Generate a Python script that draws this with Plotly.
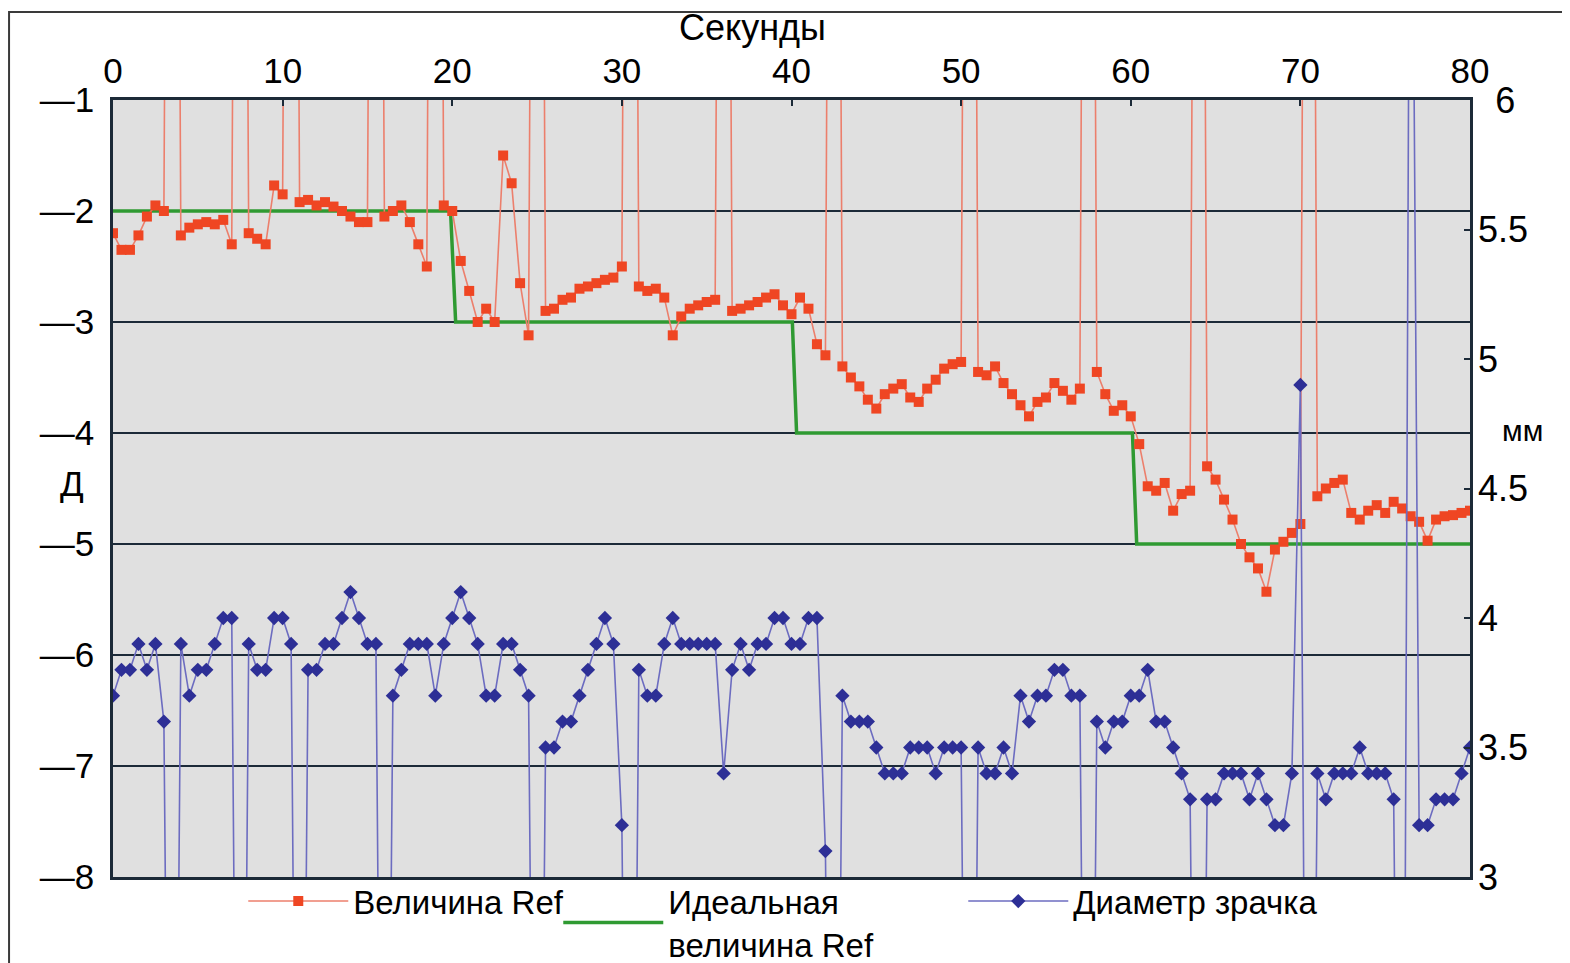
import plotly.graph_objects as go

# ---------------- data ----------------
SAMPLE_STEP_S = 0.5          # one sample every 0.5 s, 0 ... 80 s
S = 12.0                     # off-scale artefact samples of the Ref series (go above the chart)

# Величина Ref, diopters (left axis)
ref_values = [
    -2.2, -2.35, -2.35, -2.22, -2.05, -1.95, -2.0, S, -2.22, -2.15,      # 0 - 4.5 s
    -2.12, -2.1, -2.12, -2.08, -2.3, S, -2.2, -2.25, -2.3, -1.77,        # 5 - 9.5
    -1.85, S, -1.92, -1.9, -1.95, -1.92, -1.96, -2.0, -2.05, -2.1,       # 10 - 14.5
    -2.1, S, -2.05, -2.0, -1.95, -2.1, -2.3, -2.5, S, -1.95,             # 15 - 19.5
    -2.0, -2.45, -2.72, -3.0, -2.88, -3.0, -1.5, -1.75, -2.65, -3.12,    # 20 - 24.5
    S, -2.9, -2.88, -2.8, -2.78, -2.7, -2.68, -2.65, -2.62, -2.6,        # 25 - 29.5
    -2.5, S, -2.68, -2.72, -2.7, -2.78, -3.12, -2.95, -2.88, -2.85,      # 30 - 34.5
    -2.82, -2.8, S, -2.9, -2.88, -2.85, -2.82, -2.78, -2.75, -2.85,      # 35 - 39.5
    -2.93, -2.78, -2.88, -3.2, -3.3, S, -3.4, -3.5, -3.58, -3.7,         # 40 - 44.5
    -3.78, -3.65, -3.6, -3.56, -3.68, -3.72, -3.6, -3.52, -3.42, -3.38,  # 45 - 49.5
    -3.36, S, -3.45, -3.48, -3.4, -3.55, -3.65, -3.75, -3.85, -3.72,     # 50 - 54.5
    -3.68, -3.55, -3.62, -3.7, -3.6, S, -3.45, -3.65, -3.8, -3.75,       # 55 - 59.5
    -3.85, -4.1, -4.48, -4.52, -4.45, -4.7, -4.55, -4.52, S, -4.3,       # 60 - 64.5
    -4.42, -4.6, -4.78, -5.0, -5.12, -5.22, -5.43, -5.05, -4.98, -4.9,   # 65 - 69.5
    -4.82, S, -4.57, -4.5, -4.45, -4.42, -4.72, -4.78, -4.7, -4.65,      # 70 - 74.5
    -4.72, -4.62, -4.68, -4.75, -4.8, -4.97, -4.78, -4.75, -4.74, -4.72, # 75 - 79.5
    -4.7,                                                                # 80
]

# Диаметр зрачка, mm (right axis); 0.0 = dropout (blink)
pupil_mm = [
    3.7, 3.8, 3.8, 3.9, 3.8, 3.9, 3.6, 0.0, 3.9, 3.7,      # 0 - 4.5 s
    3.8, 3.8, 3.9, 4.0, 4.0, 0.0, 3.9, 3.8, 3.8, 4.0,      # 5 - 9.5
    4.0, 3.9, 0.0, 3.8, 3.8, 3.9, 3.9, 4.0, 4.1, 4.0,      # 10 - 14.5
    3.9, 3.9, 0.0, 3.7, 3.8, 3.9, 3.9, 3.9, 3.7, 3.9,      # 15 - 19.5
    4.0, 4.1, 4.0, 3.9, 3.7, 3.7, 3.9, 3.9, 3.8, 3.7,      # 20 - 24.5
    0.0, 3.5, 3.5, 3.6, 3.6, 3.7, 3.8, 3.9, 4.0, 3.9,      # 25 - 29.5
    3.2, 0.0, 3.8, 3.7, 3.7, 3.9, 4.0, 3.9, 3.9, 3.9,      # 30 - 34.5
    3.9, 3.9, 3.4, 3.8, 3.9, 3.8, 3.9, 3.9, 4.0, 4.0,      # 35 - 39.5
    3.9, 3.9, 4.0, 4.0, 3.1, 0.0, 3.7, 3.6, 3.6, 3.6,      # 40 - 44.5
    3.5, 3.4, 3.4, 3.4, 3.5, 3.5, 3.5, 3.4, 3.5, 3.5,      # 45 - 49.5
    3.5, 0.0, 3.5, 3.4, 3.4, 3.5, 3.4, 3.7, 3.6, 3.7,      # 50 - 54.5
    3.7, 3.8, 3.8, 3.7, 3.7, 0.0, 3.6, 3.5, 3.6, 3.6,      # 55 - 59.5
    3.7, 3.7, 3.8, 3.6, 3.6, 3.5, 3.4, 3.3, 0.0, 3.3,      # 60 - 64.5
    3.3, 3.4, 3.4, 3.4, 3.3, 3.4, 3.3, 3.2, 3.2, 3.4,      # 65 - 69.5
    4.9, 0.0, 3.4, 3.3, 3.4, 3.4, 3.4, 3.5, 3.4, 3.4,      # 70 - 74.5
    3.4, 3.3, 0.0, 8.0, 3.2, 3.2, 3.3, 3.3, 3.3, 3.4,      # 75 - 79.5
    3.5,                                                   # 80
]

# Идеальная величина Ref (step target)
ideal_seconds = [0, 19.9, 20.2, 40.05, 40.3, 60.1, 60.35, 80]
ideal_ref = [-2, -2, -3, -3, -4, -4, -5, -5]

seconds = [round(i * SAMPLE_STEP_S, 2) for i in range(len(ref_values))]

x_ticks = [0, 10, 20, 30, 40, 50, 60, 70, 80]
left_ticks = [-1, -2, -3, -4, -5, -6, -7, -8]
left_labels = ["\u2014" + str(abs(v)) for v in left_ticks]
right_ticks = [3, 3.5, 4, 4.5, 5, 5.5, 6]
# the top label "6" sits a little to the right (clear of the "80" tick label)
right_labels = ["3", "3.5", "4", "4.5", "5", "5.5", "\u2009\u00a06"]

# ---------------- styling ----------------
FONT = "Liberation Sans, Arial, Helvetica, sans-serif"
AXIS_DARK = "#1c2a38"
RED_MARK = "#ef4623"
RED_LINE = "#ec7f6c"
GREEN = "#2f9a32"
BLUE_MARK = "#2d2f96"
BLUE_LINE = "#6c6cc0"

fig = go.Figure()

fig.add_trace(go.Scatter(
    x=ideal_seconds, y=ideal_ref, name="Идеальная<br>величина Ref",
    mode="lines", line=dict(color=GREEN, width=3.5), legendrank=2,
    legendwidth=290,
))
fig.add_trace(go.Scatter(
    x=seconds, y=ref_values, name="Величина Ref",
    mode="lines+markers",
    line=dict(color=RED_LINE, width=1.6),
    marker=dict(symbol="square", size=10, color=RED_MARK, line=dict(width=0)),
    legendrank=1, legendwidth=200,
))
fig.add_trace(go.Scatter(
    x=seconds, y=pupil_mm, name="Диаметр зрачка", yaxis="y2",
    mode="lines+markers",
    line=dict(color=BLUE_LINE, width=1.6),
    marker=dict(symbol="diamond", size=11, color=BLUE_MARK, line=dict(width=0)),
    legendrank=3,
))

# the page body adds an 8 px offset, so margins are shifted to land the
# plot area at x 113-1470, y 100-877 in the final picture
fig.update_layout(
    width=1570, height=963,
    margin=dict(l=105, r=108, t=92, b=94, autoexpand=False),
    paper_bgcolor="white",
    plot_bgcolor="#e0e0e0",
    font=dict(family=FONT, size=35, color="black"),
    showlegend=True,
    legend=dict(
        orientation="h", x=0.096, xanchor="left", y=0.005, yanchor="top",
        font=dict(size=33), itemwidth=100, bgcolor="rgba(0,0,0,0)",
        traceorder="normal", valign="middle",
    ),
    xaxis=dict(
        side="top", range=[0, 80], tickvals=x_ticks, ticks="inside", ticklen=6,
        tickwidth=2, tickcolor=AXIS_DARK, showgrid=False, zeroline=False,
        showline=True, mirror=True, linecolor=AXIS_DARK, linewidth=2.5,
        ticklabelstandoff=0, tickfont=dict(size=35),
    ),
    yaxis=dict(
        range=[-8, -1], tickvals=left_ticks, ticktext=left_labels, ticks="",
        showgrid=True, gridcolor=AXIS_DARK, gridwidth=2.2, zeroline=False,
        showline=True, mirror=True, linecolor=AXIS_DARK, linewidth=2.5,
        ticklabelstandoff=9,
    ),
    yaxis2=dict(
        overlaying="y", side="right", range=[3, 6], tickvals=right_ticks,
        ticktext=right_labels, tickfont=dict(size=36),
        ticks="inside", ticklen=6, tickwidth=2, tickcolor=AXIS_DARK,
        showgrid=False, zeroline=False, showline=False,
        ticklabelstandoff=7,
    ),
    annotations=[
        dict(text="Секунды", xref="paper", yref="paper", x=0.471, y=1.093,
             xanchor="center", yanchor="middle", showarrow=False,
             font=dict(size=36)),
        dict(text="Д", xref="paper", yref="paper", x=-0.030, y=0.507,
             xanchor="center", yanchor="middle", showarrow=False,
             font=dict(size=35)),
        dict(text="мм", xref="paper", yref="paper", x=1.039, y=0.575,
             xanchor="center", yanchor="middle", showarrow=False,
             font=dict(size=30)),
    ],
    shapes=[
        dict(type="rect", xref="paper", yref="paper", x0=-0.0766, x1=1.09,
             y0=-0.13, y1=1.1133, line=dict(color="#3a3a3a", width=2),
             layer="below"),
    ],
)

fig.write_html("out.html")
